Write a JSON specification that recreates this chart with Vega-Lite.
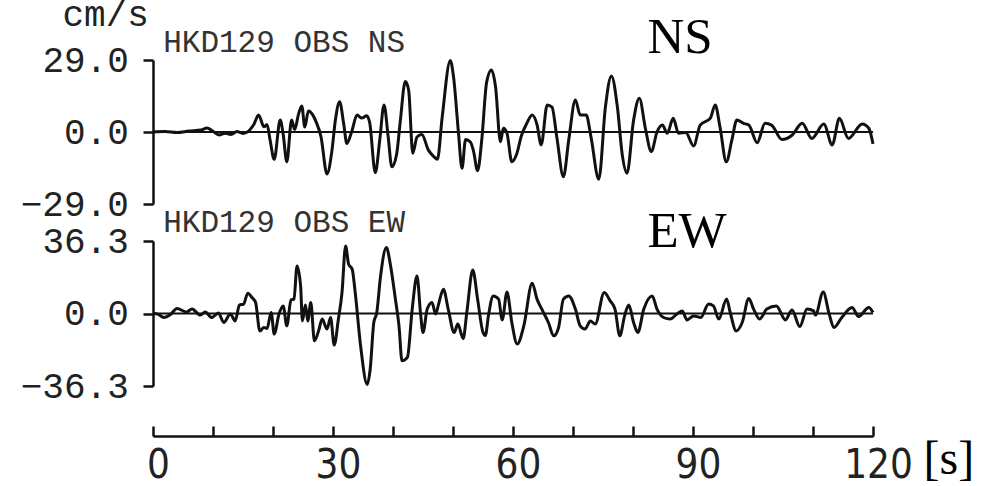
{
  "$schema": "https://vega.github.io/schema/vega-lite/v6.json",
  "background": "white",
  "padding": {"left": 20, "top": -4, "right": 10, "bottom": 0},
  "spacing": 37,
  "bounds": "flush",
  "config": {
    "view": {"stroke": null},
    "axis": {"grid": false, "domainColor": "#111", "tickColor": "#111", "domainWidth": 2.5, "tickWidth": 2.5, "labelColor": "#222", "labelFlush": false, "labelOverlap": false}
  },
  "datasets": {
    "ns": [
      {"t":0,"v":0},{"t":2,"v":0.2},{"t":4,"v":-0.2},{"t":6,"v":0.4},{"t":8,"v":0.8},{"t":9,"v":1.6},{"t":10,"v":0.3},{"t":11,"v":-1.2},{"t":12,"v":-0.5},{"t":13,"v":-1.0},{"t":14,"v":0.2},{"t":15,"v":-0.6},{"t":16,"v":0.5},{"t":16.8,"v":3},{"t":17.6,"v":6.8},{"t":18.5,"v":2.1},{"t":19,"v":3},{"t":19.5,"v":-3},{"t":20.2,"v":-11},{"t":21.2,"v":4.8},{"t":21.7,"v":-1},{"t":22.3,"v":-12},{"t":23.1,"v":4.8},{"t":23.6,"v":1},{"t":24.3,"v":7.6},{"t":24.8,"v":10.5},{"t":25.3,"v":2},{"t":25.9,"v":8.5},{"t":26.6,"v":7},{"t":27.2,"v":4},{"t":28,"v":-1.9},{"t":29,"v":-16.9},{"t":29.8,"v":-7.9},{"t":30.4,"v":4.8},{"t":31.1,"v":12.2},{"t":31.8,"v":3},{"t":32.3,"v":-4.6},{"t":33.1,"v":0},{"t":34,"v":6.8},{"t":34.8,"v":5.6},{"t":35.6,"v":6.5},{"t":36.1,"v":4},{"t":37.05,"v":-16.4},{"t":37.8,"v":-3},{"t":38.5,"v":10.9},{"t":39.2,"v":-2},{"t":39.8,"v":-14},{"t":40.6,"v":-9},{"t":41.2,"v":4},{"t":42.05,"v":20.3},{"t":42.6,"v":17},{"t":43.3,"v":-8.6},{"t":44,"v":-2},{"t":44.8,"v":-1},{"t":45.9,"v":-7.3},{"t":46.8,"v":-9.9},{"t":47.4,"v":-11},{"t":48.2,"v":6},{"t":49.55,"v":28.8},{"t":50.1,"v":22},{"t":50.9,"v":0},{"t":51.5,"v":-14.6},{"t":52.1,"v":-3},{"t":52.9,"v":-4},{"t":53.4,"v":-7.5},{"t":54.1,"v":-15.6},{"t":54.8,"v":-3},{"t":55.6,"v":20},{"t":56.4,"v":25},{"t":57.1,"v":18},{"t":57.9,"v":-3.9},{"t":58.4,"v":1.5},{"t":59.0,"v":-0.5},{"t":59.8,"v":-12},{"t":60.6,"v":-9},{"t":61.4,"v":-1.5},{"t":62.3,"v":3.5},{"t":63.2,"v":6.8},{"t":64.0,"v":3},{"t":64.7,"v":-5.2},{"t":65.7,"v":10.9},{"t":66.5,"v":10},{"t":67.3,"v":-2},{"t":68.4,"v":-18},{"t":69.3,"v":-3},{"t":70.4,"v":12.9},{"t":71.2,"v":6.8},{"t":72.2,"v":6.8},{"t":73.0,"v":-2},{"t":74.3,"v":-19},{"t":75.4,"v":10},{"t":76.4,"v":22.6},{"t":77.4,"v":10},{"t":78.2,"v":-9},{"t":79.0,"v":-16.6},{"t":80.1,"v":4.8},{"t":81.05,"v":13.6},{"t":82.1,"v":1},{"t":83.05,"v":-7.9},{"t":84.0,"v":0},{"t":84.9,"v":2.8},{"t":85.7,"v":-0.5},{"t":86.7,"v":5.5},{"t":87.6,"v":-0.5},{"t":88.8,"v":-0.2},{"t":90.1,"v":-5.6},{"t":91.2,"v":2.8},{"t":92.9,"v":5.6},{"t":93.7,"v":10.9},{"t":94.5,"v":2},{"t":95.55,"v":-12},{"t":96.5,"v":-3},{"t":97.3,"v":4.8},{"t":98.4,"v":3.5},{"t":99.3,"v":2.8},{"t":100.7,"v":-4.3},{"t":102.0,"v":3.5},{"t":103.1,"v":2.8},{"t":104.8,"v":-3},{"t":106.5,"v":-1.3},{"t":108.2,"v":3.5},{"t":109.8,"v":-2.6},{"t":111.8,"v":3.2},{"t":113.2,"v":-5.2},{"t":114.4,"v":5.5},{"t":115.9,"v":-2.6},{"t":118.2,"v":3.2},{"t":119.3,"v":1.5},{"t":120,"v":-4.8}
    ],
    "ew": [
      {"t":0,"v":0},{"t":0.8,"v":-0.3},{"t":1.8,"v":-2},{"t":2.9,"v":-0.5},{"t":4,"v":2.5},{"t":5.6,"v":0.8},{"t":6.5,"v":2.2},{"t":7.9,"v":-0.8},{"t":8.7,"v":0.8},{"t":9.8,"v":-2},{"t":10.9,"v":0.2},{"t":11.8,"v":-4.5},{"t":12.9,"v":-0.3},{"t":13.7,"v":-3.7},{"t":14.4,"v":4.2},{"t":15.1,"v":4.7},{"t":15.8,"v":10.2},{"t":16.5,"v":8},{"t":17.1,"v":5.5},{"t":17.8,"v":-8.7},{"t":18.5,"v":-7},{"t":19.0,"v":-7.5},{"t":19.7,"v":0.5},{"t":20.2,"v":-10.3},{"t":21.0,"v":-0.3},{"t":21.7,"v":3.8},{"t":22.3,"v":-6.2},{"t":23.0,"v":6.8},{"t":23.5,"v":7.2},{"t":24.0,"v":23.8},{"t":24.6,"v":13.8},{"t":24.9,"v":-3.7},{"t":25.4,"v":4.2},{"t":25.8,"v":-3.7},{"t":26.3,"v":5.5},{"t":26.9,"v":-13.7},{"t":27.6,"v":-8.7},{"t":28.2,"v":-2.8},{"t":29.0,"v":-7.8},{"t":29.6,"v":-2},{"t":30.2,"v":-15.8},{"t":30.9,"v":-2.8},{"t":31.5,"v":10.5},{"t":32.1,"v":33.8},{"t":32.6,"v":24.7},{"t":33.2,"v":22.2},{"t":33.7,"v":10.5},{"t":34.6,"v":-16.2},{"t":35.7,"v":-35.5},{"t":36.2,"v":-27.8},{"t":36.8,"v":-4.5},{"t":37.3,"v":0.5},{"t":37.9,"v":18},{"t":38.9,"v":33},{"t":39.6,"v":23.8},{"t":40.4,"v":7.2},{"t":41.0,"v":-6.2},{"t":41.5,"v":-23.7},{"t":42.4,"v":-22},{"t":43.2,"v":2.2},{"t":44.0,"v":18.8},{"t":44.6,"v":-0.3},{"t":45.0,"v":-9.5},{"t":45.7,"v":2.2},{"t":46.5,"v":5.5},{"t":47.1,"v":-0.3},{"t":47.6,"v":4.7},{"t":48.4,"v":12.2},{"t":49.2,"v":2.2},{"t":50.2,"v":-9.5},{"t":50.8,"v":-5.3},{"t":51.7,"v":-12.5},{"t":52.3,"v":0.5},{"t":53.3,"v":21.8},{"t":54.1,"v":7.2},{"t":55.0,"v":-9.5},{"t":55.4,"v":-11},{"t":55.9,"v":-1.2},{"t":56.7,"v":8.8},{"t":57.6,"v":7.2},{"t":58.2,"v":-3.2},{"t":59.0,"v":10.8},{"t":59.8,"v":-4.5},{"t":60.7,"v":-15.3},{"t":61.8,"v":-6.2},{"t":63.2,"v":15.2},{"t":64.0,"v":7.2},{"t":64.8,"v":2.2},{"t":65.9,"v":-4.5},{"t":66.8,"v":-11.2},{"t":67.6,"v":-7},{"t":68.4,"v":7.2},{"t":69.3,"v":8.8},{"t":70.4,"v":2.2},{"t":71.2,"v":-6.2},{"t":72.0,"v":-7.8},{"t":72.9,"v":-3.7},{"t":73.7,"v":-5.3},{"t":75.2,"v":10.5},{"t":76.2,"v":6.3},{"t":77.0,"v":2.2},{"t":77.8,"v":-11.2},{"t":78.6,"v":-1.2},{"t":79.3,"v":4.2},{"t":80.1,"v":-4.5},{"t":80.8,"v":-9.5},{"t":81.8,"v":2.2},{"t":83.2,"v":8.8},{"t":84.0,"v":2.2},{"t":85.1,"v":-2},{"t":86.2,"v":-2.8},{"t":87.3,"v":-0.3},{"t":88.2,"v":1.3},{"t":89.0,"v":-3.2},{"t":90.1,"v":-1.2},{"t":91.3,"v":-2},{"t":92.6,"v":4.7},{"t":93.4,"v":3.8},{"t":94.3,"v":-2.8},{"t":95.6,"v":7.2},{"t":96.2,"v":0.5},{"t":97.2,"v":-8.7},{"t":98.2,"v":-4.5},{"t":99.3,"v":7.5},{"t":100.1,"v":2.2},{"t":101.1,"v":-2.8},{"t":102.3,"v":2.2},{"t":103.9,"v":3.8},{"t":105.4,"v":-3.2},{"t":106.5,"v":1.8},{"t":107.8,"v":-6.5},{"t":109.0,"v":2.2},{"t":110.1,"v":1.3},{"t":110.4,"v":-0.8},{"t":111.7,"v":10.8},{"t":112.7,"v":-0.3},{"t":113.5,"v":-7},{"t":114.8,"v":-2},{"t":116.5,"v":3},{"t":117.6,"v":-1.5},{"t":119.3,"v":3},{"t":120,"v":0.5}
    ]
  },
  "vconcat": [
    {
      "width": 720,
      "height": 144,
      "layer": [
        {
          "data": {"name": "ns"},
          "mark": {"type": "line", "color": "#111", "strokeWidth": 3, "interpolate": "monotone"},
          "encoding": {
            "x": {"field": "t", "type": "quantitative", "scale": {"domain": [0, 120], "nice": false}, "axis": null},
            "y": {"field": "v", "type": "quantitative", "scale": {"domain": [-29, 29], "nice": false, "zero": false},
              "axis": {"values": [-29, 0, 29], "format": ".1f", "tickSize": 10, "labelPadding": 14.7, "labelFont": "Liberation Mono", "labelFontSize": 36,
                "title": "cm/s", "titleAngle": 0, "titleX": -91, "titleY": -35, "titleAlign": "left", "titleBaseline": "alphabetic", "titleFont": "Liberation Mono", "titleFontSize": 36, "titleFontWeight": "normal", "titleColor": "#222"}}
          }
        },
        {
          "data": {"values": [{}]},
          "mark": {"type": "rule", "color": "#111", "strokeWidth": 2},
          "encoding": {"y": {"datum": 0}}
        },
        {
          "data": {"values": [{"label": "NS"}]},
          "mark": {"type": "text", "font": "Liberation Serif", "fontSize": 51, "align": "left", "baseline": "alphabetic", "color": "#000"},
          "encoding": {"x": {"datum": 82.4}, "y": {"datum": 31.8}, "text": {"field": "label"}}
        },
        {
          "data": {"values": [{"label": "HKD129 OBS NS"}]},
          "mark": {"type": "text", "font": "Liberation Mono", "fontSize": 31, "align": "left", "baseline": "alphabetic", "color": "#333"},
          "encoding": {"x": {"datum": 1.7}, "y": {"datum": 32.2}, "text": {"field": "label"}}
        }
      ]
    },
    {
      "width": 720,
      "height": 145,
      "layer": [
        {
          "data": {"name": "ew"},
          "mark": {"type": "line", "color": "#111", "strokeWidth": 3, "interpolate": "monotone"},
          "encoding": {
            "x": {"field": "t", "type": "quantitative", "scale": {"domain": [0, 120], "nice": false},
              "axis": {"orient": "bottom", "offset": 50, "values": [0,10,20,30,40,50,60,70,80,90,100,110,120], "labelExpr": "datum.value % 30 === 0 ? datum.label : ''",
                "tickSize": -10, "labelPadding": 19, "labelOffset": 5, "labelFont": "Liberation Sans Narrow, DejaVu Sans Condensed, sans-serif", "labelFontSize": 40,
                "title": "[s]", "titleX": 770, "titleY": 37, "titleAlign": "left", "titleBaseline": "alphabetic", "titleFont": "Liberation Serif", "titleFontSize": 48, "titleFontWeight": "normal", "titleColor": "#000"}},
            "y": {"field": "v", "type": "quantitative", "scale": {"domain": [-36.3, 36.3], "nice": false, "zero": false},
              "axis": {"values": [-36.3, 0, 36.3], "format": ".1f", "tickSize": 10, "labelPadding": 14.7, "labelFont": "Liberation Mono", "labelFontSize": 36, "title": null}}
          }
        },
        {
          "data": {"values": [{}]},
          "mark": {"type": "rule", "color": "#111", "strokeWidth": 2},
          "encoding": {"y": {"datum": 0}}
        },
        {
          "data": {"values": [{"label": "EW"}]},
          "mark": {"type": "text", "font": "Liberation Serif", "fontSize": 51, "align": "left", "baseline": "alphabetic", "color": "#000"},
          "encoding": {"x": {"datum": 82.4}, "y": {"datum": 33.25}, "text": {"field": "label"}}
        },
        {
          "data": {"values": [{"label": "HKD129 OBS EW"}]},
          "mark": {"type": "text", "font": "Liberation Mono", "fontSize": 31, "align": "left", "baseline": "alphabetic", "color": "#333"},
          "encoding": {"x": {"datum": 1.7}, "y": {"datum": 40.75}, "text": {"field": "label"}}
        }
      ]
    }
  ]
}
